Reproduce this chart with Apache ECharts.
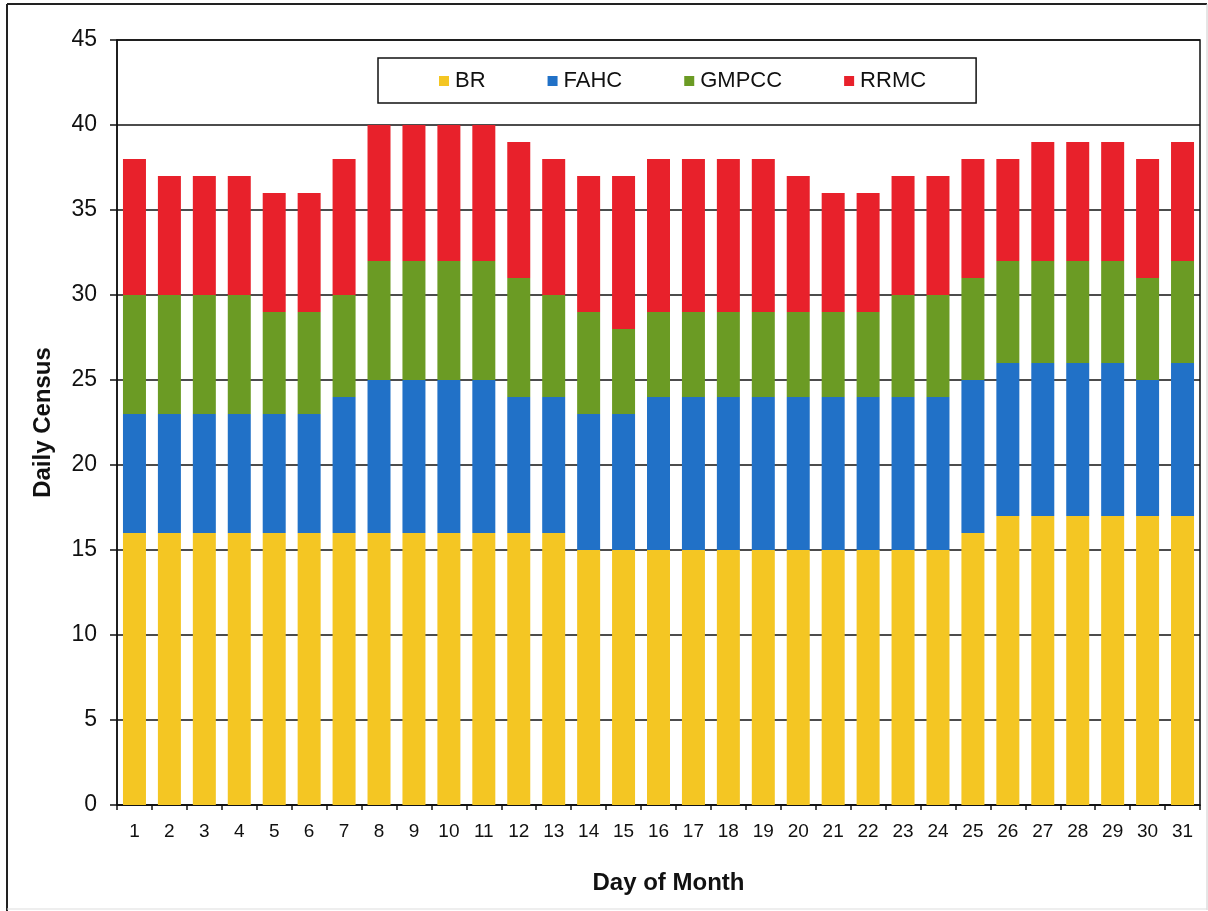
<!DOCTYPE html>
<html>
<head>
<meta charset="utf-8">
<title>Daily Census</title>
<script src="https://cdn.jsdelivr.net/npm/echarts@6/dist/echarts.min.js"></script>
<style>
  html, body { margin: 0; padding: 0; background: #fff; }
  #chart { width: 1208px; height: 911px; }
</style>
</head>
<body>
<div id="chart"></div>
<script>
// Day-of-month categories
const days = Array.from({ length: 31 }, (_, i) => String(i + 1));

// Daily census per facility (stacked)
const br    = [16,16,16,16,16,16,16,16,16,16,16,16,16,15,15,15,15,15,15,15,15,15,15,15,16,17,17,17,17,17,17];
const fahc  = [7,7,7,7,7,7,8,9,9,9,9,8,8,8,8,9,9,9,9,9,9,9,9,9,9,9,9,9,9,8,9];
const gmpcc = [7,7,7,7,6,6,6,7,7,7,7,7,6,6,5,5,5,5,5,5,5,5,6,6,6,6,6,6,6,6,6];
const rrmc  = [8,7,7,7,7,7,8,8,8,8,8,8,8,8,9,9,9,9,9,8,7,7,7,7,7,6,7,7,7,7,7];

const seriesNames  = ['BR', 'FAHC', 'GMPCC', 'RRMC'];
const seriesData   = [br, fahc, gmpcc, rrmc];
const seriesColors = ['#F4C623', '#2171C7', '#6B9B24', '#E8212B'];

const FONT = '"Liberation Sans", Arial, sans-serif';

const chart = echarts.init(document.getElementById('chart'), null, { renderer: 'canvas' });

chart.setOption({
  animation: false,
  backgroundColor: '#ffffff',
  textStyle: { fontFamily: FONT },
  graphic: [
    // outer frame
    { type: 'line', shape: { x1: 7, y1: 4, x2: 1207, y2: 4 }, style: { stroke: '#222', lineWidth: 2 } },
    { type: 'line', shape: { x1: 7, y1: 4, x2: 7, y2: 911 }, style: { stroke: '#222', lineWidth: 2 } },
    { type: 'line', shape: { x1: 1207, y1: 4, x2: 1207, y2: 910 }, style: { stroke: '#ccc', lineWidth: 1 } },
    { type: 'line', shape: { x1: 7, y1: 909, x2: 1207, y2: 909 }, style: { stroke: '#ddd', lineWidth: 1 } }
  ],
  legend: {
    data: seriesNames,
    left: 378,
    top: 58,
    orient: 'horizontal',
    icon: 'rect',
    itemWidth: 10,
    itemHeight: 10,
    itemGap: 62,
    padding: [12, 50, 11, 61],
    borderColor: '#111',
    borderWidth: 1.5,
    backgroundColor: '#fff',
    textStyle: { fontFamily: FONT, fontSize: 22, color: '#111', padding: [0, 0, 0, 1] }
  },
  grid: {
    left: 117,
    top: 40,
    width: 1083,
    height: 765,
    show: true,
    borderColor: '#111',
    borderWidth: 1.5,
    backgroundColor: 'transparent'
  },
  xAxis: {
    type: 'category',
    data: days,
    name: 'Day of Month',
    nameLocation: 'middle',
    nameGap: 66,
    nameTextStyle: { fontFamily: FONT, fontSize: 24, fontWeight: 'bold', color: '#111', padding: [0, 0, 0, 20] },
    axisLine: { lineStyle: { color: '#111', width: 1.5 } },
    axisTick: { show: true, alignWithLabel: false, length: 5, lineStyle: { color: '#111', width: 1.5 } },
    axisLabel: { fontFamily: FONT, fontSize: 19, color: '#111', margin: 17, interval: 0 },
    splitLine: { show: false }
  },
  yAxis: {
    type: 'value',
    min: 0,
    max: 45,
    interval: 5,
    name: 'Daily Census',
    nameLocation: 'middle',
    nameGap: 62,
    nameRotate: 90,
    nameTextStyle: { fontFamily: FONT, fontSize: 24, fontWeight: 'bold', color: '#111' },
    axisLine: { show: true, lineStyle: { color: '#111', width: 1.5 } },
    axisTick: { show: true, length: 7, lineStyle: { color: '#111', width: 1.5 } },
    axisLabel: { fontFamily: FONT, fontSize: 23, color: '#111', margin: 20 },
    splitLine: { show: true, lineStyle: { color: '#111', width: 1.5 } }
  },
  series: seriesNames.map((name, i) => ({
    name,
    type: 'bar',
    stack: 'census',
    data: seriesData[i],
    barWidth: 23,
    itemStyle: { color: seriesColors[i] },
    z: 3
  }))
});
</script>
</body>
</html>
